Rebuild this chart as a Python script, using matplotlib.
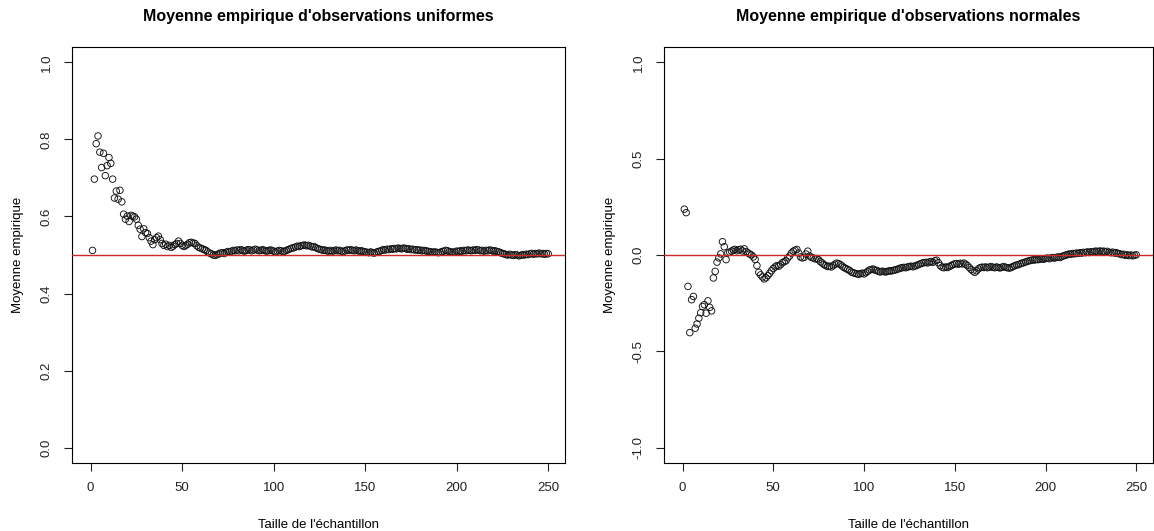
import matplotlib
matplotlib.use("Agg")
import matplotlib.pyplot as plt
import numpy as np

plt.rcParams['font.family'] = ['Liberation Sans', 'DejaVu Sans']

# running mean of uniform observations, n = 1..250
moy_unif = [
    0.512, 0.697, 0.789, 0.809, 0.767, 0.727, 0.764, 0.706, 0.732, 0.753,
    0.738, 0.697, 0.648, 0.666, 0.645, 0.668, 0.638, 0.606, 0.593, 0.601,
    0.587, 0.603, 0.601, 0.599, 0.593, 0.577, 0.567, 0.548, 0.568, 0.558,
    0.556, 0.545, 0.536, 0.527, 0.540, 0.545, 0.549, 0.540, 0.530, 0.525,
    0.528, 0.522, 0.525, 0.520, 0.523, 0.527, 0.530, 0.536, 0.530, 0.525,
    0.522, 0.525, 0.528, 0.532, 0.533, 0.531, 0.530, 0.524, 0.520, 0.518,
    0.516, 0.514, 0.512, 0.508, 0.505, 0.503, 0.500, 0.499, 0.501, 0.503,
    0.505, 0.506, 0.504, 0.507, 0.509, 0.508, 0.510, 0.512, 0.511, 0.513,
    0.511, 0.514, 0.512, 0.510, 0.512, 0.514, 0.513, 0.511, 0.513, 0.515,
    0.513, 0.511, 0.512, 0.514, 0.512, 0.510, 0.511, 0.513, 0.512, 0.510,
    0.508, 0.510, 0.512, 0.511, 0.509, 0.510, 0.512, 0.514, 0.516, 0.518,
    0.519, 0.521, 0.523, 0.522, 0.524, 0.525, 0.526, 0.524, 0.525, 0.523,
    0.521, 0.522, 0.519, 0.517, 0.515, 0.514, 0.512, 0.513, 0.511, 0.510,
    0.512, 0.510, 0.511, 0.513, 0.511, 0.512, 0.510, 0.509, 0.511, 0.513,
    0.512, 0.514, 0.512, 0.511, 0.513, 0.511, 0.510, 0.511, 0.509, 0.508,
    0.507, 0.506, 0.508, 0.506, 0.505, 0.507, 0.509, 0.510, 0.512, 0.514,
    0.513, 0.515, 0.514, 0.516, 0.515, 0.517, 0.516, 0.518, 0.517, 0.516,
    0.518, 0.517, 0.515, 0.516, 0.514, 0.515, 0.513, 0.514, 0.512, 0.513,
    0.511, 0.512, 0.511, 0.510, 0.509, 0.508, 0.507, 0.508, 0.507, 0.506,
    0.507, 0.509, 0.510, 0.512, 0.511, 0.509, 0.508, 0.507, 0.508, 0.510,
    0.509, 0.511, 0.510, 0.512, 0.511, 0.513, 0.512, 0.511, 0.513, 0.512,
    0.514, 0.513, 0.511, 0.512, 0.510, 0.512, 0.511, 0.513, 0.512, 0.510,
    0.511, 0.509, 0.508, 0.506, 0.504, 0.503, 0.501, 0.500, 0.502, 0.500,
    0.499, 0.501, 0.500, 0.498, 0.499, 0.501, 0.500, 0.502, 0.501, 0.503,
    0.504, 0.502, 0.504, 0.503, 0.505, 0.503, 0.504, 0.502, 0.504, 0.503,
]

# running mean of normal observations, n = 1..250
moy_norm = [
    0.238, 0.220, -0.163, -0.403, -0.232, -0.215, -0.380, -0.358, -0.328, -0.300,
    -0.267, -0.258, -0.302, -0.238, -0.272, -0.290, -0.119, -0.085, -0.037, -0.015,
    0.006, 0.069, 0.043, -0.024, 0.011, 0.015, 0.020, 0.026, 0.029, 0.022,
    0.027, 0.030, 0.021, 0.032, 0.018, 0.011, 0.005, 0.000, -0.010, -0.023,
    -0.055, -0.090, -0.103, -0.114, -0.124, -0.118, -0.107, -0.095, -0.082, -0.070,
    -0.062, -0.055, -0.058, -0.050, -0.040, -0.035, -0.030, -0.015, -0.005, 0.010,
    0.020, 0.025, 0.029, 0.010, -0.010, -0.015, -0.012, 0.005, 0.020, -0.005,
    -0.012, -0.015, -0.020, -0.018, -0.025, -0.035, -0.042, -0.050, -0.055, -0.060,
    -0.058, -0.062, -0.055, -0.048, -0.042, -0.045, -0.050, -0.058, -0.065, -0.070,
    -0.075, -0.080, -0.088, -0.092, -0.095, -0.098, -0.100, -0.097, -0.094, -0.098,
    -0.092, -0.085, -0.078, -0.075, -0.073, -0.078, -0.080, -0.085, -0.088, -0.084,
    -0.086, -0.088, -0.085, -0.082, -0.083, -0.080, -0.078, -0.075, -0.072, -0.068,
    -0.066, -0.064, -0.066, -0.062, -0.060, -0.058, -0.061, -0.057, -0.054, -0.050,
    -0.046, -0.042, -0.040, -0.038, -0.041, -0.036, -0.034, -0.038, -0.030, -0.027,
    -0.040, -0.055, -0.063, -0.066, -0.062, -0.065, -0.060, -0.055, -0.050, -0.046,
    -0.044, -0.048, -0.043, -0.046, -0.042, -0.048, -0.055, -0.065, -0.075, -0.083,
    -0.090, -0.082, -0.072, -0.066, -0.063, -0.065, -0.062, -0.066, -0.063, -0.060,
    -0.064, -0.066, -0.062, -0.065, -0.067, -0.063, -0.060, -0.064, -0.066, -0.068,
    -0.065, -0.060, -0.056, -0.052, -0.050, -0.046, -0.042, -0.040, -0.036, -0.033,
    -0.030, -0.028, -0.025, -0.026, -0.023, -0.024, -0.021, -0.020, -0.022, -0.018,
    -0.016, -0.019, -0.015, -0.013, -0.016, -0.012, -0.010, -0.013, -0.008, -0.004,
    -0.001, 0.002, 0.005, 0.004, 0.008, 0.006, 0.010, 0.008, 0.012, 0.010,
    0.014, 0.012, 0.016, 0.013, 0.017, 0.015, 0.019, 0.020, 0.017, 0.021,
    0.018, 0.020, 0.016, 0.019, 0.014, 0.012, 0.015, 0.010, 0.012, 0.008,
    0.006, 0.002, 0.004, -0.002, 0.001, -0.003, 0.000, -0.004, -0.001, 0.001,
]

n = np.arange(1, len(moy_unif) + 1)

fig = plt.figure(figsize=(11.54, 5.31), dpi=100)
ax1 = fig.add_axes([0.0624, 0.128, 0.4272, 0.7835])
ax2 = fig.add_axes([0.5754, 0.128, 0.4237, 0.7835])

panels = [
    (ax1, moy_unif, 0.5, "Moyenne empirique d'observations uniformes",
     (0, 1), [0.0, 0.2, 0.4, 0.6, 0.8, 1.0]),
    (ax2, moy_norm, 0.0, "Moyenne empirique d'observations normales",
     (-1, 1), [-1.0, -0.5, 0.0, 0.5, 1.0]),
]

for ax, vals, ref, title, (lo, hi), yt in panels:
    ax.scatter(n, vals, s=22, facecolors="none", edgecolors="#111111", linewidths=0.65, zorder=2)
    ax.axhline(ref, color="#d02828", lw=1, zorder=3)
    pad = 0.04 * (hi - lo)
    ax.set_ylim(lo - pad, hi + pad)
    ax.set_xlim(-10.2, 259.2)
    ax.set_xticks([0, 50, 100, 150, 200, 250])
    ax.set_yticks(yt)
    ax.set_yticklabels([f"{v:.1f}" for v in yt], rotation=90, va="center")
    ax.tick_params(direction="out", length=6, width=0.8, labelsize=9.5, pad=8, colors="#222222")
    for s in ax.spines.values():
        s.set_linewidth(0.8)
    ax.set_title(title, fontsize=11.5, fontweight="bold", pad=19)
    ax.set_xlabel("Taille de l'échantillon", fontsize=9.5, labelpad=18)
    ax.set_ylabel("Moyenne empirique", fontsize=9.5, labelpad=12)

fig.savefig("out.png", dpi=100)
